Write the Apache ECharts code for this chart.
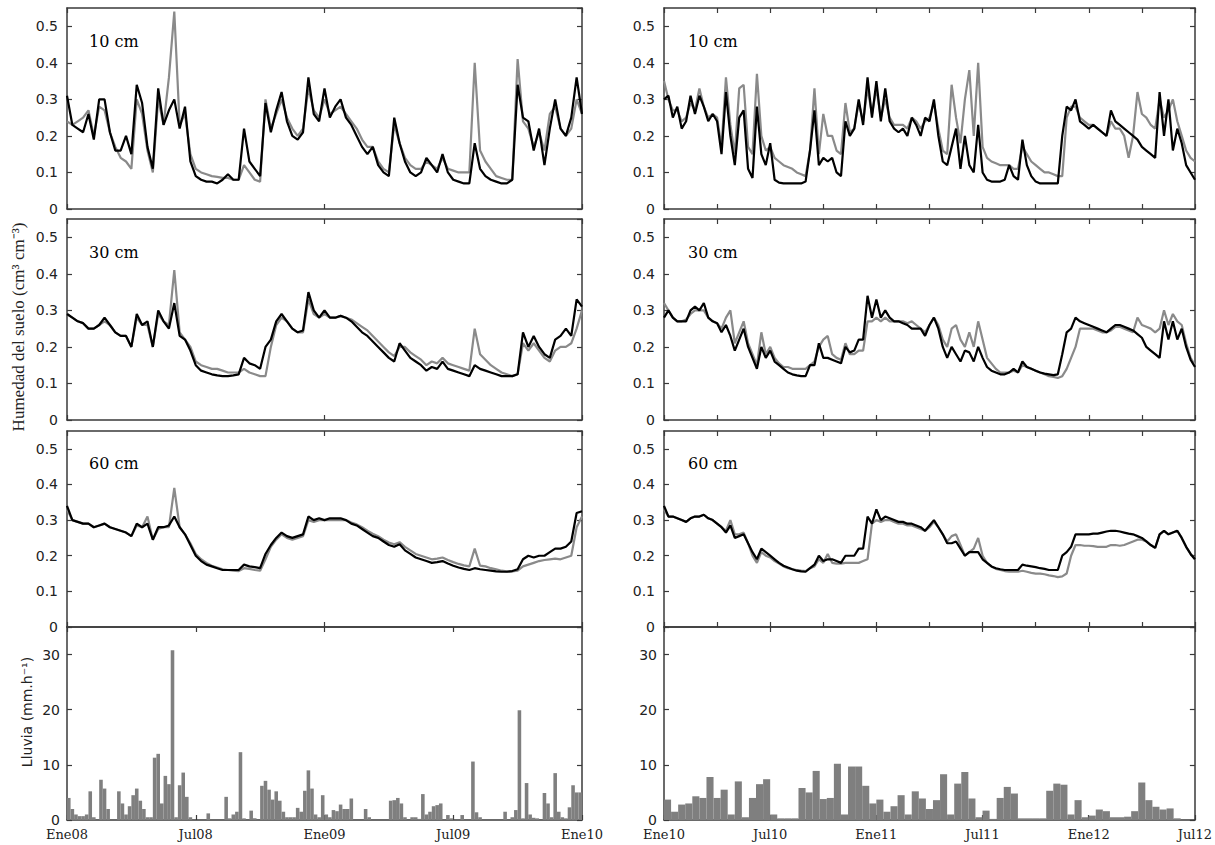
<!DOCTYPE html>
<html><head><meta charset="utf-8">
<script src="https://cdn.jsdelivr.net/npm/echarts@6/dist/echarts.min.js"></script>
<style>html,body{margin:0;padding:0;background:#fff}#c{width:1215px;height:845px}</style>
</head><body><div id="c"></div>
<script>
// ---- data (soil series sampled every 0.25 month; rain in fixed bins) ----
const STEP_SOIL = 0.25;
const STEP_RAIN_L = 1/6;
const STEP_RAIN_R = 0.4;
const TICKS_L = ['Ene08','Jul08','Ene09','Jul09','Ene10'];
const TICKS_R = ['Ene10','Jul10','Ene11','Jul11','Ene12','Jul12'];
const DEPTHS = ['10 cm','30 cm','60 cm'];

const L10_black = [0.31,0.23,0.22,0.21,0.26,0.19,0.30,0.30,0.21,0.16,
0.16,0.20,0.15,0.34,0.29,0.17,0.11,0.33,0.23,0.27,
0.30,0.22,0.28,0.13,0.09,0.08,0.075,0.075,0.07,0.08,
0.095,0.08,0.08,0.22,0.13,0.11,0.09,0.29,0.21,0.27,
0.32,0.24,0.2,0.19,0.21,0.36,0.26,0.24,0.33,0.25,
0.28,0.3,0.25,0.23,0.2,0.17,0.15,0.17,0.12,0.1,
0.09,0.25,0.18,0.13,0.1,0.09,0.1,0.14,0.12,0.1,
0.15,0.1,0.08,0.075,0.07,0.07,0.18,0.11,0.09,0.08,
0.075,0.07,0.07,0.08,0.34,0.25,0.24,0.16,0.22,0.12,
0.22,0.3,0.22,0.2,0.25,0.36,0.26];
const L10_gray = [0.24,0.23,0.24,0.25,0.27,0.2,0.28,0.27,0.21,0.17,
0.14,0.13,0.11,0.3,0.26,0.16,0.1,0.3,0.23,0.36,
0.54,0.23,0.26,0.15,0.11,0.1,0.095,0.09,0.088,0.085,
0.085,0.08,0.08,0.12,0.1,0.08,0.075,0.3,0.22,0.26,
0.3,0.25,0.22,0.2,0.22,0.33,0.27,0.25,0.3,0.26,
0.27,0.28,0.26,0.24,0.22,0.19,0.17,0.17,0.13,0.11,
0.1,0.23,0.18,0.14,0.12,0.11,0.11,0.13,0.12,0.11,
0.14,0.11,0.105,0.1,0.1,0.1,0.4,0.16,0.13,0.11,
0.09,0.085,0.08,0.08,0.41,0.24,0.22,0.17,0.21,0.16,
0.26,0.28,0.22,0.2,0.22,0.3,0.26];
const L30_black = [0.29,0.28,0.27,0.265,0.25,0.25,0.26,0.28,0.26,0.24,
0.23,0.23,0.2,0.29,0.26,0.27,0.2,0.3,0.27,0.25,
0.32,0.23,0.22,0.19,0.15,0.135,0.13,0.125,0.122,0.12,
0.12,0.122,0.125,0.17,0.155,0.15,0.14,0.2,0.22,0.27,
0.29,0.27,0.25,0.24,0.245,0.35,0.3,0.28,0.3,0.28,
0.28,0.285,0.28,0.27,0.255,0.24,0.23,0.215,0.2,0.185,
0.17,0.16,0.21,0.19,0.17,0.16,0.15,0.135,0.145,0.14,
0.16,0.14,0.135,0.13,0.125,0.12,0.15,0.14,0.135,0.13,
0.125,0.12,0.12,0.12,0.125,0.24,0.2,0.23,0.2,0.18,
0.17,0.22,0.23,0.25,0.23,0.33,0.31];
const L30_gray = [0.29,0.28,0.27,0.265,0.25,0.25,0.26,0.27,0.26,0.24,
0.23,0.23,0.2,0.28,0.26,0.26,0.2,0.29,0.27,0.26,
0.41,0.24,0.22,0.2,0.16,0.15,0.145,0.14,0.14,0.135,
0.13,0.13,0.13,0.14,0.13,0.125,0.12,0.12,0.2,0.26,
0.28,0.27,0.25,0.24,0.24,0.33,0.29,0.28,0.29,0.28,
0.28,0.285,0.28,0.275,0.265,0.255,0.245,0.23,0.215,0.2,
0.185,0.175,0.2,0.2,0.185,0.175,0.165,0.15,0.16,0.155,
0.17,0.155,0.15,0.145,0.14,0.135,0.25,0.18,0.165,0.15,
0.14,0.13,0.125,0.12,0.125,0.21,0.19,0.21,0.19,0.17,
0.16,0.19,0.2,0.2,0.21,0.25,0.3];
const L60_black = [0.34,0.3,0.295,0.29,0.29,0.28,0.285,0.29,0.28,0.275,
0.27,0.265,0.255,0.29,0.28,0.29,0.245,0.28,0.28,0.285,
0.31,0.28,0.26,0.23,0.2,0.185,0.175,0.17,0.165,0.16,
0.16,0.16,0.16,0.175,0.17,0.168,0.165,0.205,0.23,0.25,
0.265,0.255,0.25,0.255,0.26,0.31,0.3,0.305,0.3,0.305,
0.305,0.305,0.3,0.29,0.285,0.275,0.265,0.255,0.25,0.24,
0.23,0.225,0.232,0.215,0.205,0.195,0.19,0.185,0.18,0.182,
0.185,0.178,0.172,0.167,0.163,0.16,0.165,0.162,0.16,0.158,
0.156,0.155,0.155,0.157,0.162,0.19,0.2,0.195,0.2,0.2,
0.21,0.22,0.22,0.225,0.24,0.32,0.325];
const L60_gray = [0.33,0.3,0.295,0.29,0.29,0.28,0.285,0.29,0.28,0.275,
0.27,0.265,0.255,0.285,0.28,0.31,0.245,0.275,0.28,0.28,
0.39,0.28,0.26,0.235,0.205,0.19,0.18,0.172,0.167,0.162,
0.16,0.158,0.157,0.165,0.163,0.16,0.158,0.19,0.225,0.245,
0.26,0.25,0.245,0.25,0.255,0.3,0.295,0.3,0.3,0.3,
0.3,0.3,0.3,0.293,0.288,0.28,0.27,0.262,0.255,0.245,
0.237,0.232,0.238,0.225,0.215,0.205,0.2,0.195,0.19,0.192,
0.195,0.188,0.182,0.177,0.173,0.17,0.22,0.172,0.17,0.165,
0.162,0.158,0.156,0.156,0.158,0.17,0.175,0.18,0.185,0.188,
0.19,0.192,0.19,0.195,0.2,0.28,0.31];

const R10_black = [0.3,0.31,0.25,0.28,0.22,0.24,0.31,0.26,0.31,0.28,
0.24,0.26,0.24,0.15,0.32,0.2,0.12,0.25,0.27,0.11,
0.085,0.28,0.15,0.12,0.18,0.08,0.072,0.07,0.07,0.07,
0.07,0.07,0.075,0.16,0.27,0.12,0.14,0.13,0.14,0.1,
0.09,0.24,0.2,0.22,0.3,0.23,0.36,0.25,0.35,0.24,
0.33,0.24,0.22,0.21,0.22,0.2,0.25,0.23,0.2,0.25,
0.24,0.3,0.2,0.13,0.12,0.17,0.22,0.11,0.2,0.12,
0.1,0.23,0.1,0.08,0.075,0.075,0.075,0.08,0.12,0.09,
0.08,0.19,0.12,0.09,0.075,0.07,0.07,0.07,0.07,0.07,
0.2,0.28,0.27,0.3,0.24,0.23,0.22,0.23,0.22,0.21,
0.2,0.27,0.24,0.23,0.22,0.21,0.2,0.19,0.17,0.16,
0.15,0.14,0.32,0.2,0.3,0.16,0.22,0.18,0.12,0.1,
0.08];
const R10_gray = [0.35,0.3,0.27,0.27,0.24,0.25,0.29,0.27,0.33,0.28,
0.25,0.26,0.25,0.17,0.36,0.23,0.15,0.33,0.34,0.17,
0.15,0.37,0.2,0.16,0.17,0.14,0.13,0.12,0.115,0.11,
0.1,0.095,0.09,0.16,0.33,0.15,0.26,0.2,0.2,0.16,
0.15,0.29,0.21,0.22,0.29,0.24,0.33,0.26,0.33,0.25,
0.3,0.25,0.23,0.23,0.23,0.22,0.25,0.24,0.22,0.24,
0.25,0.29,0.22,0.16,0.15,0.34,0.25,0.18,0.3,0.38,
0.2,0.4,0.17,0.14,0.13,0.125,0.12,0.12,0.12,0.11,
0.11,0.17,0.15,0.13,0.12,0.11,0.1,0.1,0.095,0.09,
0.09,0.25,0.28,0.28,0.25,0.24,0.23,0.23,0.22,0.21,
0.2,0.24,0.22,0.22,0.2,0.14,0.2,0.32,0.26,0.25,
0.23,0.22,0.3,0.25,0.27,0.3,0.24,0.2,0.16,0.14,
0.13];
const R30_black = [0.28,0.3,0.28,0.27,0.27,0.27,0.3,0.31,0.3,0.32,
0.28,0.27,0.265,0.24,0.26,0.23,0.19,0.22,0.25,0.2,
0.17,0.14,0.2,0.17,0.19,0.16,0.15,0.14,0.13,0.125,
0.122,0.12,0.12,0.15,0.15,0.21,0.17,0.17,0.165,0.16,
0.155,0.2,0.185,0.19,0.22,0.22,0.34,0.28,0.33,0.28,
0.3,0.28,0.27,0.27,0.265,0.26,0.25,0.25,0.25,0.23,
0.26,0.28,0.25,0.2,0.17,0.2,0.18,0.16,0.19,0.185,
0.16,0.2,0.17,0.145,0.135,0.13,0.125,0.125,0.13,0.14,
0.13,0.16,0.145,0.14,0.135,0.13,0.127,0.125,0.123,0.125,
0.18,0.24,0.25,0.28,0.27,0.265,0.26,0.255,0.25,0.245,
0.24,0.25,0.26,0.26,0.255,0.25,0.245,0.235,0.225,0.2,
0.19,0.18,0.17,0.27,0.22,0.27,0.22,0.25,0.2,0.165,
0.145];
const R30_gray = [0.32,0.3,0.28,0.27,0.27,0.275,0.29,0.3,0.3,0.3,
0.28,0.27,0.265,0.25,0.28,0.3,0.21,0.24,0.27,0.21,
0.18,0.15,0.24,0.18,0.2,0.17,0.155,0.145,0.145,0.14,
0.14,0.14,0.14,0.15,0.16,0.2,0.22,0.23,0.18,0.17,
0.165,0.21,0.18,0.18,0.19,0.19,0.27,0.27,0.28,0.27,
0.28,0.27,0.27,0.27,0.27,0.265,0.27,0.26,0.25,0.24,
0.26,0.28,0.26,0.22,0.2,0.25,0.26,0.22,0.2,0.24,
0.2,0.27,0.22,0.17,0.155,0.14,0.13,0.13,0.13,0.135,
0.13,0.15,0.145,0.14,0.135,0.13,0.125,0.12,0.118,0.115,
0.12,0.14,0.17,0.2,0.25,0.25,0.25,0.25,0.245,0.24,
0.24,0.245,0.255,0.255,0.25,0.245,0.24,0.28,0.26,0.255,
0.25,0.24,0.25,0.3,0.26,0.29,0.27,0.26,0.21,0.17,
0.15];
const R60_black = [0.34,0.31,0.31,0.305,0.3,0.295,0.305,0.31,0.31,0.315,
0.305,0.3,0.29,0.28,0.265,0.285,0.25,0.255,0.26,0.235,
0.21,0.19,0.22,0.21,0.2,0.19,0.18,0.172,0.167,0.162,
0.158,0.156,0.155,0.165,0.175,0.2,0.185,0.19,0.19,0.185,
0.18,0.2,0.2,0.2,0.22,0.22,0.31,0.29,0.33,0.3,
0.31,0.305,0.3,0.295,0.295,0.29,0.29,0.285,0.28,0.27,
0.285,0.3,0.28,0.26,0.235,0.235,0.24,0.22,0.2,0.21,
0.21,0.21,0.19,0.18,0.17,0.165,0.162,0.16,0.16,0.16,
0.16,0.175,0.172,0.17,0.168,0.165,0.163,0.16,0.16,0.16,
0.2,0.21,0.225,0.26,0.26,0.26,0.26,0.262,0.262,0.265,
0.268,0.27,0.27,0.268,0.265,0.262,0.26,0.255,0.25,0.24,
0.23,0.222,0.26,0.27,0.26,0.265,0.27,0.25,0.225,0.205,
0.19];
const R60_gray = [0.33,0.31,0.31,0.305,0.3,0.295,0.305,0.31,0.31,0.315,
0.305,0.3,0.29,0.28,0.27,0.3,0.26,0.26,0.265,0.235,
0.2,0.18,0.21,0.2,0.195,0.185,0.178,0.17,0.165,0.162,
0.16,0.158,0.157,0.165,0.17,0.19,0.18,0.205,0.18,0.178,
0.178,0.18,0.18,0.18,0.18,0.185,0.19,0.29,0.3,0.295,
0.3,0.3,0.295,0.29,0.29,0.285,0.285,0.28,0.275,0.27,
0.28,0.295,0.28,0.26,0.24,0.255,0.26,0.23,0.2,0.21,
0.22,0.25,0.2,0.18,0.17,0.163,0.16,0.157,0.155,0.155,
0.155,0.158,0.155,0.152,0.15,0.15,0.148,0.145,0.143,0.14,
0.142,0.15,0.2,0.23,0.23,0.228,0.228,0.227,0.225,0.225,
0.225,0.23,0.23,0.228,0.23,0.235,0.24,0.245,0.245,0.24,
0.23,0.222,0.26,0.27,0.26,0.265,0.27,0.25,0.225,0.205,
0.19];

const RAIN_L = [4,2,1,0.7,0.7,1,5.2,0.5,0,7.3,
5.7,2,0,0,5.2,3,1,2.5,4.5,5.7,
3.5,2,0.5,0.5,11.3,12,3,8,6.5,30.8,
0.5,6.3,8.6,4.2,0.5,0,0,0,0,1.2,
0,0,0,0,4.2,0.3,1,1.5,12.3,0.3,
0,1.7,0.3,0,6.2,7.1,5.5,3.7,5.2,3.5,
1.5,0.5,0.5,0.5,2.2,1.5,5.3,9,5.7,1,
0.5,4.5,1,0.5,1.8,1.6,2.8,2,2,3.9,
0,0,0,2,0.5,0,0,0,0,0,
3.5,3.6,4,3,0.5,0,0.5,0.5,0.2,4.7,
1,1.5,2.5,2.7,3,0,0.9,0.3,0,0,
0.9,0,0,10.6,1.4,0.5,0,0,0,0,
0,0,1.5,0,0.5,1.8,19.9,0.3,6.7,1,
0.4,0.3,0,4.9,3,0.5,8.5,1.5,0.5,0.3,
2.3,6.3,5,5];
const RAIN_R = [3.7,1.5,2.8,3,4.3,4,7.8,4,5.5,1,
7,0.5,4,6.5,7.4,1,0.3,0.3,0.3,5.8,
5,8.9,3.8,4,10.2,1,9.7,9.7,6.2,3,
3.7,1.5,2.5,4.5,1,5.2,3.9,2,3.6,8.3,
1,6.6,8.7,3.9,0.5,1.7,0.2,4,6,4.8,
0.3,0.3,0.3,0.3,5.3,6.6,6.4,1,3.6,0.5,
0.8,1.9,1.6,0.5,0.5,0.6,1.6,6.8,3.6,2.4,
1.9,2.1,0.3,0,0];

// ---- layout ----
const COLS = [
  {left:67, width:515, months:24, soilTick:12, rainStep:STEP_RAIN_L, ticks:TICKS_L, labelX:89,
   soil:[[L10_gray,L10_black],[L30_gray,L30_black],[L60_gray,L60_black]], rain:RAIN_L},
  {left:664, width:531, months:30, soilTick:3, rainStep:STEP_RAIN_R, ticks:TICKS_R, labelX:688,
   soil:[[R10_gray,R10_black],[R30_gray,R30_black],[R60_gray,R60_black]], rain:RAIN_R}
];
const ROWS = [{top:8,height:201,labelY:41},{top:219,height:201,labelY:252},{top:431,height:196,labelY:463},{top:627,height:193}];
const AX = '#3a3a3a';

const grid=[], xAxis=[], yAxis=[], series=[], graphic=[];
COLS.forEach((c,ci)=>{
  ROWS.forEach((r,ri)=>{
    const gi = grid.length;
    const isRain = ri===3;
    grid.push({left:c.left, top:r.top, width:c.width, height:r.height, containLabel:false});
    const xi = xAxis.length, yi = yAxis.length;
    ['bottom','top'].forEach(pos=>{
      xAxis.push({type:'value', gridIndex:gi, position:pos, min:0, max:c.months,
        interval: isRain ? 6 : c.soilTick,
        axisLine:{show:true,onZero:false,lineStyle:{color:AX,width:1.5}},
        axisTick:{show:true,inside:true,length:5,lineStyle:{color:AX,width:1.2}},
        axisLabel:{show: isRain && pos==='bottom', formatter:v=>c.ticks[Math.round(v/6)],
          fontFamily:'DejaVu Serif', fontSize:13, color:'#222', margin:8, showMinLabel:true, showMaxLabel:true},
        splitLine:{show:false}});
    });
    ['left','right'].forEach(pos=>{
      yAxis.push({type:'value', gridIndex:gi, position:pos, min:0, max:isRain?35:0.55, interval:isRain?10:0.1,
        axisLine:{show:true,onZero:false,lineStyle:{color:AX,width:1.5}},
        axisTick:{show:true,inside:true,length:5,lineStyle:{color:AX,width:1.2}},
        axisLabel:{show:pos==='left', showMaxLabel:false, showMinLabel:true,
          formatter:v=> isRain ? String(v) : (v===0?'0':v.toFixed(1)),
          fontFamily:'DejaVu Sans', fontSize:14, color:'#222', margin:isRain?7:9},
        splitLine:{show:false}});
    });
    if(isRain){
      series.push({type:'bar', xAxisIndex:xi, yAxisIndex:yi,
        data:c.rain.map((v,i)=>[(i+0.5)*c.rainStep, v]),
        barWidth: c.rainStep*c.width/c.months, itemStyle:{color:'#7f7f7f'}, silent:true});
    } else {
      const [gray, black] = c.soil[ri];
      series.push({type:'line', xAxisIndex:xi, yAxisIndex:yi, data:gray.map((v,i)=>[i*STEP_SOIL,v]),
        showSymbol:false, symbol:'none', lineStyle:{color:'#8a8a8a',width:2.2}, z:2, silent:true});
      series.push({type:'line', xAxisIndex:xi, yAxisIndex:yi, data:black.map((v,i)=>[i*STEP_SOIL,v]),
        showSymbol:false, symbol:'none', lineStyle:{color:'#000',width:2.2}, z:3, silent:true});
      graphic.push({type:'text', x:c.labelX, y:r.labelY, z:10,
        style:{text:DEPTHS[ri], font:'16px "DejaVu Serif"', fill:'#000', align:'left', verticalAlign:'middle', textAlign:'left', textVerticalAlign:'middle'}});
    }
  });
});
graphic.push({type:'text', x:18, y:327, rotation:Math.PI/2,
  style:{text:'Humedad del suelo (cm³ cm⁻³)', font:'17px "Liberation Serif"', fill:'#222', align:'center', verticalAlign:'middle', textAlign:'center', textVerticalAlign:'middle'}});
graphic.push({type:'text', x:27, y:712, rotation:Math.PI/2,
  style:{text:'Lluvia (mm.h⁻¹)', font:'14px "DejaVu Sans"', fill:'#222', align:'center', verticalAlign:'middle', textAlign:'center', textVerticalAlign:'middle'}});

const chart = echarts.init(document.getElementById('c'), null, {renderer:'svg'});
chart.setOption({animation:false, backgroundColor:'#fff', grid, xAxis, yAxis, series, graphic});
</script>
</body></html>
